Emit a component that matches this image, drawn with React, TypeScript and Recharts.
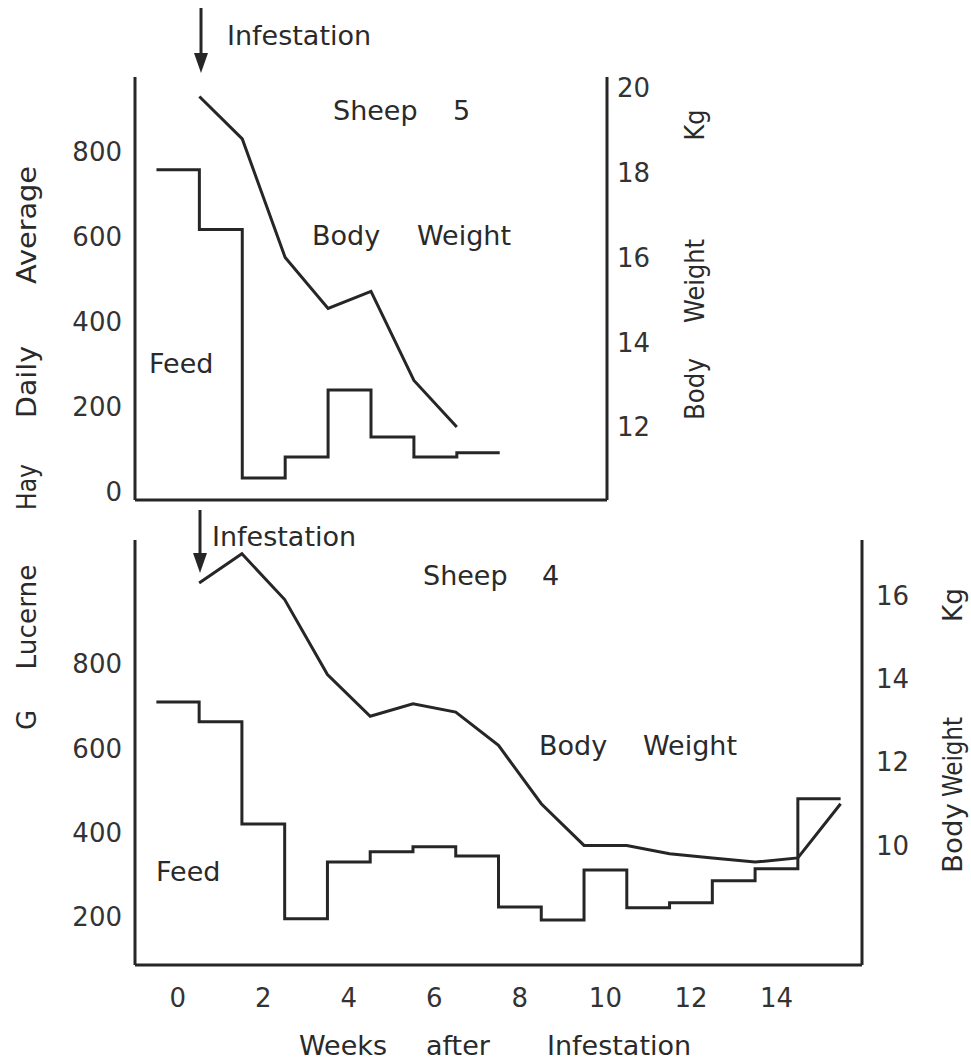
import React from "react";
import { ComposedChart, Line, XAxis, YAxis } from "recharts";

// feed = weekly mean hay (g/day), plotted as a step centred on each week
// body weight read at mid-week
const sheep5FeedWeeks = [0, 1, 2, 3, 4, 5, 6, 7];
const sheep5Feed = [757, 616, 32, 81, 239, 128, 81, 91];
const sheep5WeightWeeks = [0.5, 1.5, 2.5, 3.5, 4.5, 5.5, 6.5];
const sheep5Weight = [19.8, 18.8, 16.0, 14.8, 15.2, 13.1, 12.0];

const sheep4FeedWeeks = [0, 1, 2, 3, 4, 5, 6, 7, 8, 9, 10, 11, 12, 13, 14, 15];
const sheep4Feed = [710, 663, 420, 195, 330, 354, 366, 344, 223, 192, 311, 221, 233, 285, 314, 480];
const sheep4WeightWeeks = [0.5, 1.5, 2.5, 3.5, 4.5, 5.5, 6.5, 7.5, 8.5, 9.5, 10.5, 11.5, 12.5, 13.5, 14.5, 15.5];
const sheep4Weight = [16.3, 17.0, 15.9, 14.1, 13.1, 13.4, 13.2, 12.4, 11.0, 10.0, 10.0, 9.8, 9.7, 9.6, 9.7, 11.0];

const weekTicks = [0, 2, 4, 6, 8, 10, 12, 14];
const sheep5FeedTicks = [0, 200, 400, 600, 800];
const sheep5WeightTicks = [12, 14, 16, 18, 20];
const sheep4FeedTicks = [200, 400, 600, 800];
const sheep4WeightTicks = [10, 12, 14, 16];

const INK = "#262626";
const FONT = "DejaVu Sans";
const tickStyle = { fontSize: 26, fill: "#333", fontFamily: FONT };

// step line needs a start point per week plus a closing point
function stepData(weeks: number[], vals: number[]) {
  const pts = weeks.map((w, i) => ({ x: w - 0.5, v: vals[i] }));
  pts.push({ x: weeks[weeks.length - 1] + 0.5, v: vals[vals.length - 1] });
  return pts;
}

function lineData(weeks: number[], vals: number[]) {
  return weeks.map((w, i) => ({ x: w, v: vals[i] }));
}

type TProps = { x: number; y: number; children: React.ReactNode; rotate?: boolean; size?: number; len?: number };

function T({ x, y, children, rotate, size = 27, len }: TProps) {
  return (
    <text
      x={x}
      y={y}
      fontSize={size}
      fontFamily={FONT}
      fill="#2a2a2a"
      textAnchor={rotate ? "middle" : "start"}
      textLength={len}
      lengthAdjust={len ? "spacingAndGlyphs" : undefined}
      transform={rotate ? `rotate(-90 ${x} ${y})` : undefined}
    >
      {children}
    </text>
  );
}

function Arrow({ x, y1, y2 }: { x: number; y1: number; y2: number }) {
  return (
    <g>
      <line x1={x} y1={y1} x2={x} y2={y2 - 12} stroke={INK} strokeWidth={3} />
      <polygon points={`${x - 7},${y2 - 20} ${x + 7},${y2 - 20} ${x},${y2}`} fill={INK} />
    </g>
  );
}

export default function App() {
  return (
    <div style={{ position: "absolute", left: 0, top: 0, width: 971, height: 1062, background: "#fff" }}>
      {/* Sheep 5 */}
      <div style={{ position: "absolute", left: 0, top: 0 }}>
        <ComposedChart width={971} height={510} margin={{ top: 77, right: 304, bottom: 0, left: 75 }}>
          <XAxis
            dataKey="x"
            type="number"
            domain={[-1, 10]}
            allowDataOverflow
            tick={false}
            tickLine={false}
            height={10}
            axisLine={{ stroke: INK, strokeWidth: 3 }}
          />
          <YAxis
            yAxisId="feed"
            orientation="left"
            width={60}
            domain={[-20, 975]}
            allowDataOverflow
            ticks={sheep5FeedTicks}
            interval={0}
            tick={tickStyle}
            tickLine={false}
            tickSize={6}
            tickMargin={7}
            axisLine={{ stroke: INK, strokeWidth: 3 }}
          />
          <YAxis
            yAxisId="bw"
            orientation="right"
            width={60}
            domain={[10.28, 20.26]}
            allowDataOverflow
            ticks={sheep5WeightTicks}
            interval={0}
            tick={tickStyle}
            tickLine={false}
            tickSize={6}
            tickMargin={4}
            axisLine={{ stroke: INK, strokeWidth: 3 }}
          />
          <Line
            yAxisId="feed"
            data={stepData(sheep5FeedWeeks, sheep5Feed)}
            dataKey="v"
            type="stepAfter"
            stroke={INK}
            strokeWidth={3}
            dot={false}
            isAnimationActive={false}
          />
          <Line
            yAxisId="bw"
            data={lineData(sheep5WeightWeeks, sheep5Weight)}
            dataKey="v"
            type="linear"
            stroke={INK}
            strokeWidth={3}
            dot={false}
            isAnimationActive={false}
          />
        </ComposedChart>
      </div>

      {/* Sheep 4 */}
      <div style={{ position: "absolute", left: 0, top: 520 }}>
        <ComposedChart width={971} height={542} margin={{ top: 20, right: 49, bottom: 37, left: 75 }}>
          <XAxis
            dataKey="x"
            type="number"
            domain={[-1, 16]}
            allowDataOverflow
            ticks={weekTicks}
            interval={0}
            tick={tickStyle}
            tickLine={false}
            tickSize={6}
            tickMargin={18}
            height={60}
            axisLine={{ stroke: INK, strokeWidth: 3 }}
          />
          <YAxis
            yAxisId="feed"
            orientation="left"
            width={60}
            domain={[85, 1095]}
            allowDataOverflow
            ticks={sheep4FeedTicks}
            interval={0}
            tick={tickStyle}
            tickLine={false}
            tickSize={6}
            tickMargin={7}
            axisLine={{ stroke: INK, strokeWidth: 3 }}
          />
          <YAxis
            yAxisId="bw"
            orientation="right"
            width={60}
            domain={[7.13, 17.33]}
            allowDataOverflow
            ticks={sheep4WeightTicks}
            interval={0}
            tick={tickStyle}
            tickLine={false}
            tickSize={6}
            tickMargin={8}
            axisLine={{ stroke: INK, strokeWidth: 3 }}
          />
          <Line
            yAxisId="feed"
            data={stepData(sheep4FeedWeeks, sheep4Feed)}
            dataKey="v"
            type="stepAfter"
            stroke={INK}
            strokeWidth={3}
            dot={false}
            isAnimationActive={false}
          />
          <Line
            yAxisId="bw"
            data={lineData(sheep4WeightWeeks, sheep4Weight)}
            dataKey="v"
            type="linear"
            stroke={INK}
            strokeWidth={3}
            dot={false}
            isAnimationActive={false}
          />
        </ComposedChart>
      </div>

      {/* annotations and axis titles */}
      <svg
        width={971}
        height={1062}
        style={{ position: "absolute", left: 0, top: 0, pointerEvents: "none" }}
      >
        <Arrow x={201} y1={8} y2={73} />
        <T x={227} y={45}>Infestation</T>
        <T x={333} y={120}>Sheep</T>
        <T x={453} y={120}>5</T>
        <T x={312} y={245}>Body</T>
        <T x={417} y={245}>Weight</T>
        <T x={149} y={373}>Feed</T>

        <Arrow x={200} y1={510} y2={573} />
        <T x={212} y={546}>Infestation</T>
        <T x={423} y={585}>Sheep</T>
        <T x={542} y={585}>4</T>
        <T x={539} y={755}>Body</T>
        <T x={643} y={755}>Weight</T>
        <T x={156} y={881}>Feed</T>

        <T x={299} y={1055}>Weeks</T>
        <T x={426} y={1055}>after</T>
        <T x={547} y={1055}>Infestation</T>

        {/* shared left title */}
        <T x={36} y={225} size={26} len={118} rotate>Average</T>
        <T x={36} y={382} size={26} len={72} rotate>Daily</T>
        <T x={36} y={487} size={26} len={46} rotate>Hay</T>
        <T x={36} y={617} size={26} len={105} rotate>Lucerne</T>
        <T x={36} y={720} size={26} rotate>G</T>

        {/* right titles */}
        <T x={704} y={389} size={26} len={62} rotate>Body</T>
        <T x={704} y={281} size={26} len={84} rotate>Weight</T>
        <T x={704} y={125} size={26} len={31} rotate>Kg</T>
        <T x={962} y={838} size={26} len={70} rotate>Body</T>
        <T x={962} y={757} size={26} len={80} rotate>Weight</T>
        <T x={962} y={605} size={26} len={34} rotate>Kg</T>
      </svg>
    </div>
  );
}
